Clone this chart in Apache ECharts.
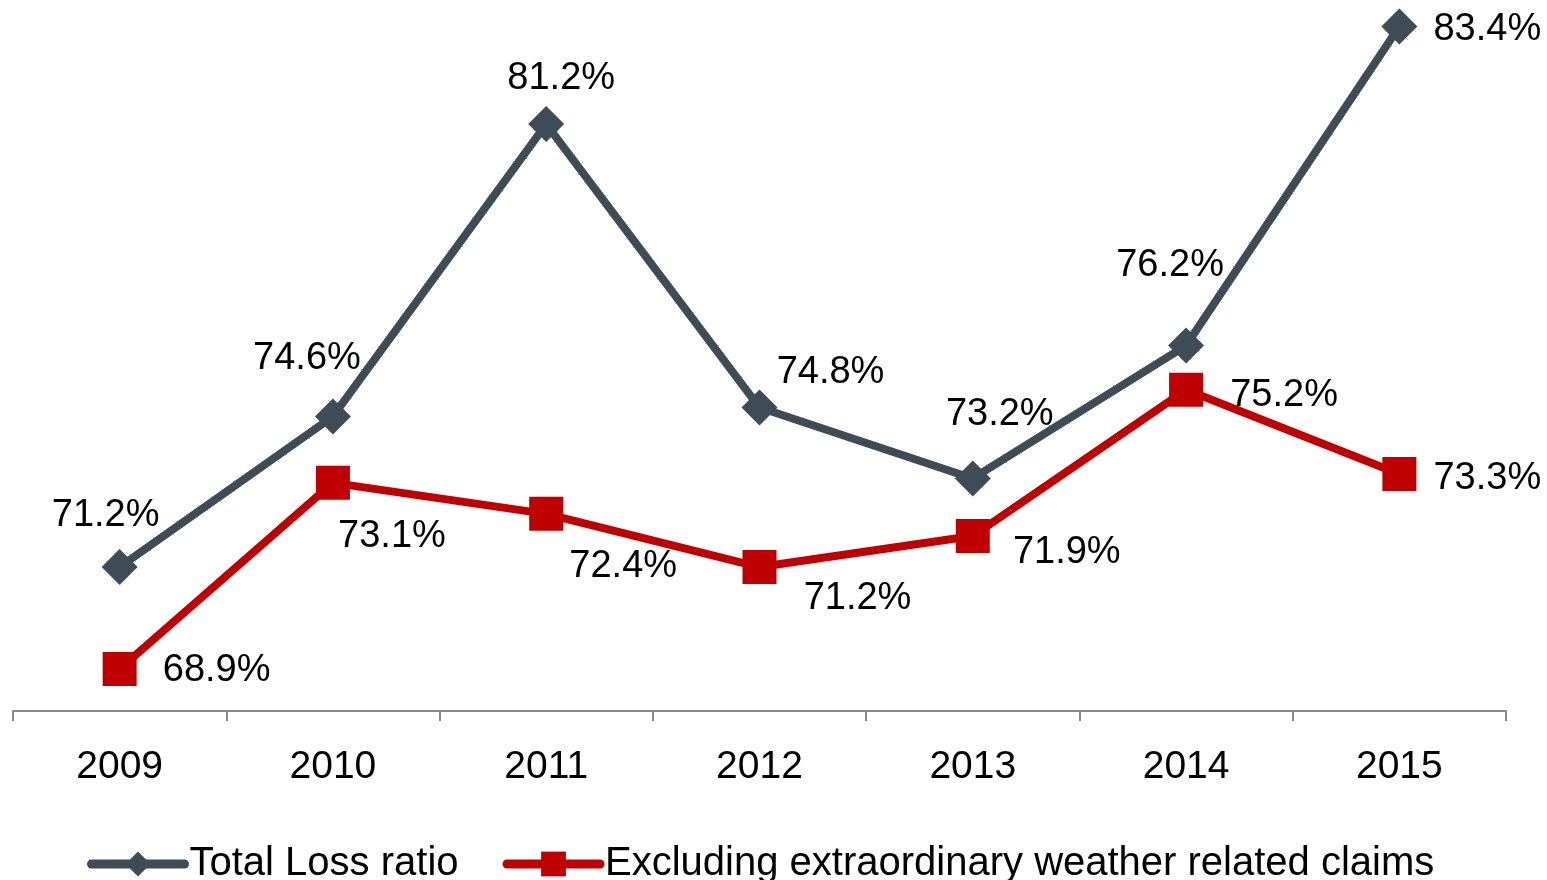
<!DOCTYPE html>
<html><head><meta charset="utf-8">
<script src="https://cdn.jsdelivr.net/npm/echarts@6/dist/echarts.min.js"></script>
<style>html,body{margin:0;padding:0;background:#fff}#c{width:1547px;height:880px}</style>
</head><body><div id="c"></div>
<script>
const categories = ['2009','2010','2011','2012','2013','2014','2015'];
const totalLoss = [71.2, 74.6, 81.2, 74.8, 73.2, 76.2, 83.4];
const exclWeather = [68.9, 73.1, 72.4, 71.2, 71.9, 75.2, 73.3];
const seriesNames = ['Total Loss ratio', 'Excluding extraordinary weather related claims'];
// label offsets (style, not data)
const totalOffsets = [[-14,-52],[-26,-58],[15,-46],[71,-35],[27,-64],[-16,-80],[88,3]];
const exclOffsets = [[97,2],[59,54],[77,53],[98,31],[94,16],[98,6],[88,5]];

const FONT = 'Liberation Sans';
const chart = echarts.init(document.getElementById('c'));
function mk(vals, offs){
  return vals.map((v,i)=>({value:v, label:{offset:offs[i]}}));
}
const lbl = {show:true, position:'inside', color:'#000', fontFamily:FONT, fontSize:38,
  formatter: p => p.value.toFixed(1) + '%'};
chart.setOption({
  animation:false,
  grid:{left:13, right:41, top:0, bottom:169, containLabel:false},
  legend:{
    left:82, top:839, itemWidth:93, itemHeight:31, itemGap:44,
    lineStyle:{width:9, cap:'round'},
    textStyle:{fontFamily:FONT, fontSize:40, color:'#000'},
    data:seriesNames
  },
  xAxis:{type:'category', data:categories, boundaryGap:true,
    axisLine:{lineStyle:{color:'#898989', width:2}},
    axisTick:{show:true, length:10, lineStyle:{color:'#898989', width:2}},
    axisLabel:{color:'#000', fontFamily:FONT, fontSize:39, margin:37}
  },
  yAxis:{type:'value', min:67.95, max:84, show:false, splitLine:{show:false}},
  series:[
    {name:seriesNames[0], type:'line', data:mk(totalLoss,totalOffsets),
     symbol:'diamond', symbolSize:36,
     lineStyle:{color:'#3F4C55', width:8}, itemStyle:{color:'#3F4C55'},
     label:lbl, z:3},
    {name:seriesNames[1], type:'line', data:mk(exclWeather,exclOffsets),
     symbol:'rect', symbolSize:34,
     lineStyle:{color:'#C00000', width:8}, itemStyle:{color:'#C00000'},
     label:lbl, z:2}
  ]
});
</script></body></html>
